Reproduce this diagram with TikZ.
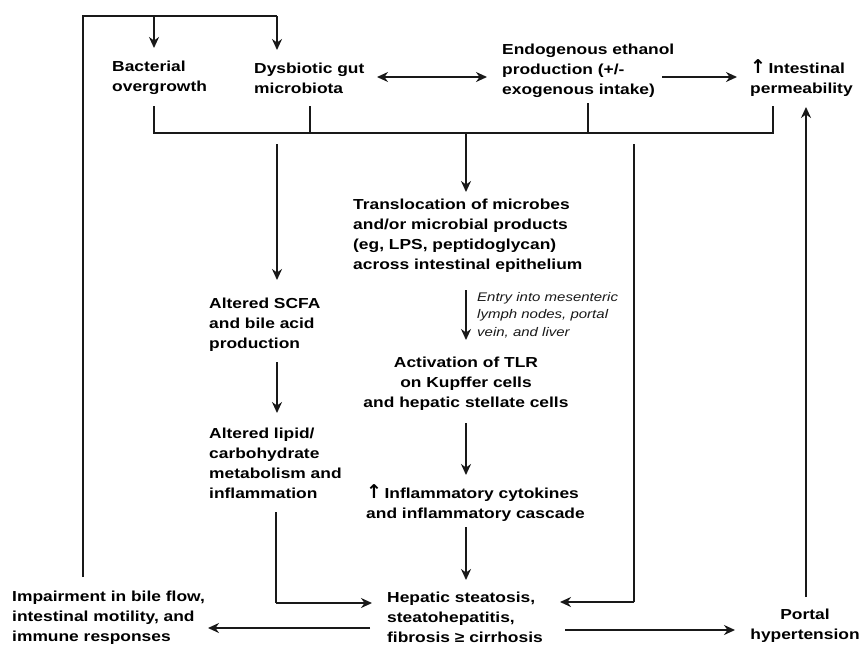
\documentclass[tikz,border=0pt]{standalone}
\usepackage{fontspec}
\setmainfont{Liberation Sans}[FakeStretch=1.2]
\newfontfamily\arrowfont{DejaVu Sans}
\newcommand{\up}{{\arrowfont\bfseries\fontsize{19}{20}\selectfont ↑}}
\usetikzlibrary{arrows.meta}
\begin{document}
\begin{tikzpicture}[x=1pt,y=-1pt,
  txt/.style={inner sep=0pt,align=left,anchor=west,text=black,font=\bfseries\fontsize{14.5}{20}\selectfont},
  note/.style={inner sep=0pt,align=left,anchor=west,text=black!90,font=\itshape\fontsize{12.5}{17.5}\selectfont},
  ln/.style={line width=2.5pt,black!90},
  arr/.style={ln,-{Stealth[length=11pt,width=10pt]}}]
  \useasboundingbox (0,0) rectangle (864,646);
  % gut side
  \node[txt] (bact) at (112,78) {Bacterial\\overgrowth};
  \node[txt] (dysb) at (254,78) {Dysbiotic gut\\microbiota};
  \node[txt] (etoh) at (502,71) {Endogenous ethanol\\production (+/-\\exogenous intake)};
  \node[txt] (perm) at (750,78) {\up\,Intestinal\\permeability};
  % liver side
  \node[txt] (transl) at (353,236) {Translocation of microbes\\and/or microbial products\\(eg, LPS, peptidoglycan)\\across intestinal epithelium};
  \node[note] (entry) at (477,315) {Entry into mesenteric\\lymph nodes, portal\\vein, and liver};
  \node[txt,align=center,anchor=center] (tlr) at (466,384) {Activation of TLR\\on Kupffer cells\\and hepatic stellate cells};
  \node[txt] (cyto) at (366,503) {\up\,Inflammatory cytokines\\and inflammatory cascade};
  \node[txt] (scfa) at (209,325) {Altered SCFA\\and bile acid\\production};
  \node[txt] (lipid) at (209,463) {Altered lipid/\\carbohydrate\\metabolism and\\inflammation};
  \node[txt] (hep) at (387,617) {Hepatic steatosis,\\steatohepatitis,\\fibrosis ≥ cirrhosis};
  \node[txt] (imp) at (12,618) {Impairment in bile flow,\\intestinal motility, and\\immune responses};
  \node[txt,align=center,anchor=center] (portal) at (805,626) {Portal\\hypertension};
  % feedback loop on top
  \coordinate (loopA) at (83,577);
  \coordinate (loopB) at (83,16);
  \coordinate (loopC) at (154,16);
  \coordinate (loopD) at (277,16);
  \draw[ln] (loopA) -- (loopB) -- (loopD);
  \draw[arr] (loopC) -- (154,48);
  \draw[arr] (loopD) -- (277,50);
  \draw[arr,{Stealth[length=11pt,width=10pt]}-{Stealth[length=11pt,width=10pt]}] (377,77) -- (487,77);
  \draw[arr] (662,77) -- (737,77);
  % collecting bar
  \coordinate (barL) at (154,133);
  \coordinate (barR) at (773,133);
  \coordinate (barM) at (466,133);
  \draw[ln] (154,106) -- (barL) -- (barR) -- (773,106);
  \draw[ln] (310,106) -- (310,133);
  \draw[ln] (588,103) -- (588,133);
  \draw[arr] (barM) -- (466,192);
  \draw[arr] (277,144) -- (277,280);
  \draw[ln] (634,144) -- (634,602);
  \draw[arr] (634,602) -- (560,602);
  % central chain
  \draw[arr] (466,290) -- (466,340);
  \draw[arr] (466,423) -- (466,475);
  \draw[arr] (466,527) -- (466,580);
  \draw[arr] (277,362) -- (277,413);
  \draw[ln] (276,512) -- (276,603);
  \draw[arr] (276,603) -- (372,603);
  % outcomes
  \draw[arr] (370,628) -- (208,628);
  \draw[arr] (565,630) -- (735,630);
  \draw[arr] (806,597) -- (806,107);
\end{tikzpicture}
\end{document}
